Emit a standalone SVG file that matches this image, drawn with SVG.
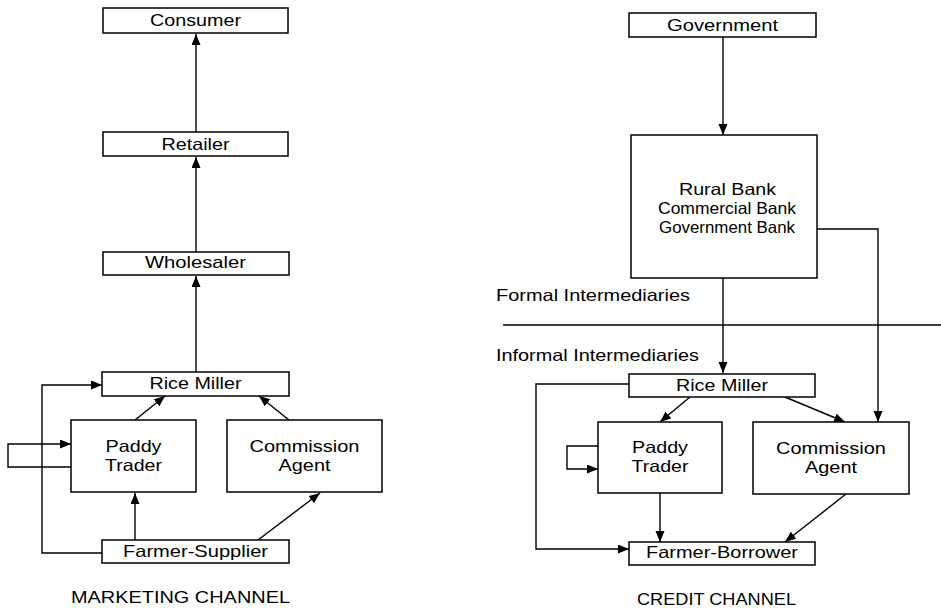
<svg xmlns="http://www.w3.org/2000/svg" width="941" height="608" viewBox="0 0 941 608">
<defs>
<style>
.box{fill:#fff;stroke:#000;stroke-width:1.5}
.lbl{font-family:"Liberation Sans",Arial,sans-serif;font-size:16.5px;fill:#000;text-anchor:middle}
.cap{font-family:"Liberation Sans",Arial,sans-serif;font-size:17px;fill:#000;text-anchor:middle}
.side{font-family:"Liberation Sans",Arial,sans-serif;font-size:16.5px;fill:#000}
.c{fill:none;stroke:#000;stroke-width:1.4}
.a{marker-end:url(#ah)}
</style>
<marker id="ah" markerUnits="userSpaceOnUse" markerWidth="12" markerHeight="10" refX="11" refY="4.5" orient="auto">
<path d="M0,0 L11,4.5 L0,9 z" fill="#000"/>
</marker>
</defs>
<rect width="941" height="608" fill="#fff"/>

<g id="connectors">
<!-- marketing channel -->
<path class="c a" d="M196,372 V276"/>
<path class="c a" d="M196,252 V157"/>
<path class="c a" d="M196,132 V34"/>
<path class="c a" d="M135,420 L165,396"/>
<path class="c a" d="M289,420 L259,396"/>
<path class="c a" d="M135,540 V493"/>
<path class="c a" d="M258,540 L320,493"/>
<path class="c a" d="M102,553 H42 V385 H102"/>
<path class="c a" d="M71,467 H8 V444 H71"/>
<!-- credit channel -->
<path class="c a" d="M723,37 V135"/>
<path class="c a" d="M723,278 V373"/>
<path class="c a" d="M817,229 H878 V422"/>
<path class="c a" d="M690,397 L660,422"/>
<path class="c a" d="M785,397 L845,422"/>
<path class="c a" d="M629,384 H536 V549 H629"/>
<path class="c a" d="M598,446 H567 V469 H598"/>
<path class="c a" d="M660,493 V542"/>
<path class="c a" d="M846,494 L785,542"/>
<!-- separator -->
<path class="c" d="M503,325 H941" stroke-width="1"/>
</g>

<g id="consumer"><rect class="box" x="103" y="8" width="185" height="25"/><text class="lbl" x="195.5" y="26" textLength="91" lengthAdjust="spacingAndGlyphs">Consumer</text></g>
<g id="retailer"><rect class="box" x="103" y="132" width="185" height="24"/><text class="lbl" x="195.5" y="150" textLength="68" lengthAdjust="spacingAndGlyphs">Retailer</text></g>
<g id="wholesaler"><rect class="box" x="103" y="252" width="186" height="23"/><text class="lbl" x="195.5" y="267.5" textLength="101" lengthAdjust="spacingAndGlyphs">Wholesaler</text></g>
<g id="rice-miller-m"><rect class="box" x="102" y="372" width="187" height="24"/><text class="lbl" x="195.5" y="388.5" textLength="92" lengthAdjust="spacingAndGlyphs">Rice Miller</text></g>
<g id="paddy-trader-m"><rect class="box" x="71" y="420" width="125" height="72"/><text class="lbl" x="133.5" y="452" textLength="56" lengthAdjust="spacingAndGlyphs">Paddy</text><text class="lbl" x="133.5" y="471" textLength="57" lengthAdjust="spacingAndGlyphs">Trader</text></g>
<g id="commission-agent-m"><rect class="box" x="227" y="420" width="155" height="72"/><text class="lbl" x="304.5" y="452" textLength="110" lengthAdjust="spacingAndGlyphs">Commission</text><text class="lbl" x="304.5" y="471" textLength="52" lengthAdjust="spacingAndGlyphs">Agent</text></g>
<g id="farmer-supplier"><rect class="box" x="102" y="540" width="187" height="23"/><text class="lbl" x="195.5" y="556.5" textLength="145" lengthAdjust="spacingAndGlyphs">Farmer-Supplier</text></g>
<g id="marketing-caption"><text class="cap" x="180.5" y="603" textLength="219" lengthAdjust="spacingAndGlyphs">MARKETING CHANNEL</text></g>

<g id="government"><rect class="box" x="629" y="13" width="187" height="24"/><text class="lbl" x="722.5" y="30.5" textLength="111" lengthAdjust="spacingAndGlyphs">Government</text></g>
<g id="banks"><rect class="box" x="631" y="135" width="186" height="143"/><text class="lbl" x="727.5" y="195" textLength="97" lengthAdjust="spacingAndGlyphs">Rural Bank</text><text class="lbl" x="727" y="214" textLength="138" lengthAdjust="spacingAndGlyphs">Commercial Bank</text><text class="lbl" x="727" y="233" textLength="136" lengthAdjust="spacingAndGlyphs">Government Bank</text></g>
<g id="formal-label"><text class="side" x="496" y="301" textLength="194" lengthAdjust="spacingAndGlyphs">Formal Intermediaries</text></g>
<g id="informal-label"><text class="side" x="496" y="361" textLength="203" lengthAdjust="spacingAndGlyphs">Informal Intermediaries</text></g>
<g id="rice-miller-c"><rect class="box" x="629" y="374" width="186" height="23"/><text class="lbl" x="722" y="390.5" textLength="92" lengthAdjust="spacingAndGlyphs">Rice Miller</text></g>
<g id="paddy-trader-c"><rect class="box" x="598" y="422" width="124" height="71"/><text class="lbl" x="660" y="453" textLength="56" lengthAdjust="spacingAndGlyphs">Paddy</text><text class="lbl" x="660" y="472" textLength="57" lengthAdjust="spacingAndGlyphs">Trader</text></g>
<g id="commission-agent-c"><rect class="box" x="753" y="422" width="156" height="72"/><text class="lbl" x="831" y="454" textLength="110" lengthAdjust="spacingAndGlyphs">Commission</text><text class="lbl" x="831" y="473" textLength="52" lengthAdjust="spacingAndGlyphs">Agent</text></g>
<g id="farmer-borrower"><rect class="box" x="629" y="542" width="186" height="23"/><text class="lbl" x="722" y="558" textLength="152" lengthAdjust="spacingAndGlyphs">Farmer-Borrower</text></g>
<g id="credit-caption"><text class="cap" x="716.5" y="605" textLength="159" lengthAdjust="spacingAndGlyphs">CREDIT CHANNEL</text></g>
</svg>
